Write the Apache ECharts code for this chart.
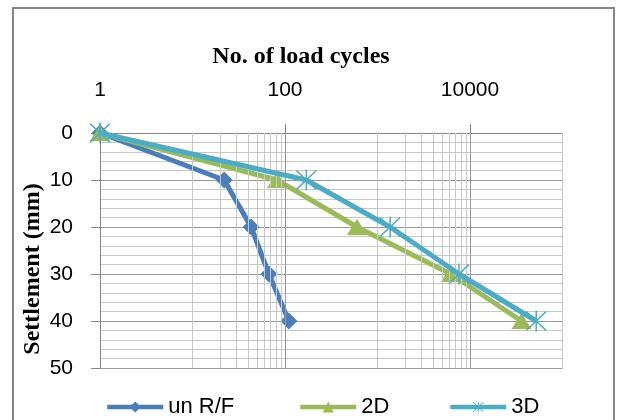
<!DOCTYPE html>
<html>
<head>
<meta charset="utf-8">
<script src="https://cdn.jsdelivr.net/npm/echarts@6/dist/echarts.min.js"></script>
<style>
  html, body { margin: 0; padding: 0; background: #fff; }
  #main { width: 621px; height: 420px; }
</style>
</head>
<body>
<div id="main"></div>
<script>
// settlement (mm) for every load stage
var settlement = [0, 10, 20, 30, 40];
// number of load cycles at each settlement
var cyclesUnRF = [1, 22, 43, 67, 110];
var cycles2D = [1, 82, 600, 6200, 36000];
var cycles3D = [1, 170, 1370, 7600, 52000];

var seriesNames = ['un R/F', '2D', '3D'];
var xTickLabels = [1, 100, 10000];
var yTickLabels = [0, 10, 20, 30, 40, 50];
// vertical grid lines (Excel log base 100 axis)
var xMajorGrid = [100, 10000];
var xMinorGrid = [10, 20, 30, 40, 50, 60, 70, 80, 90,
  1000, 2000, 3000, 4000, 5000, 6000, 7000, 8000, 9000, 100000];

var starPath = 'path://M9.3 0L10.7 0L10.7 20L9.3 20Z' +
  'M0.5 1.5L1.5 0.5L19.5 18.5L18.5 19.5Z' +
  'M18.5 0.5L19.5 1.5L1.5 19.5L0.5 18.5Z';

function pairs(xs) {
  return xs.map(function (x, i) { return [x, settlement[i]]; });
}

var chart = echarts.init(document.getElementById('main'), null, { renderer: 'canvas' });

var labelFont = { fontFamily: 'Liberation Sans', fontSize: 21, color: '#000' };

var option = {
  animation: false,
  backgroundColor: '#fff',
  grid: { left: 100, top: 133, right: 58.5, bottom: 52 },
  xAxis: {
    type: 'log',
    logBase: 100,
    position: 'top',
    min: 1,
    max: 100000,
    axisLine: { show: true, lineStyle: { color: '#868686', width: 1 } },
    axisTick: { show: true, length: 9, lineStyle: { color: '#868686' } },
    axisLabel: {
      margin: 32,
      fontFamily: labelFont.fontFamily,
      fontSize: labelFont.fontSize,
      color: labelFont.color,
      showMaxLabel: false,
      formatter: function (v) {
        var r = Math.round(v);
        return xTickLabels.indexOf(r) >= 0 ? String(r) : '';
      }
    },
    splitLine: { show: false },
    minorSplitLine: { show: false }
  },
  yAxis: {
    type: 'value',
    inverse: true,
    min: 0,
    max: 50,
    interval: 10,
    axisLine: { show: true, lineStyle: { color: '#868686', width: 1 } },
    axisTick: { show: true, length: 9, lineStyle: { color: '#868686' } },
    axisLabel: {
      margin: 27,
      fontFamily: labelFont.fontFamily,
      fontSize: labelFont.fontSize,
      color: labelFont.color,
      formatter: function (v) {
        return yTickLabels.indexOf(v) >= 0 ? String(v) : '';
      }
    },
    splitLine: { show: true, lineStyle: { color: '#9a9a9a', width: 1 } },
    minorTick: { show: false, splitNumber: 5 },
    minorSplitLine: { show: true, lineStyle: { color: '#c8c8c8', width: 1 } }
  },
  legend: [
    { data: [seriesNames[0]], left: 105 },
    { data: [seriesNames[1]], left: 298 },
    { data: [seriesNames[2]], left: 448 }
  ].map(function (l) {
    l.top = 396;
    l.itemWidth = 56;
    l.itemHeight = 14;
    l.padding = 0;
    l.selectedMode = false;
    l.lineStyle = { width: 4.5 };
    l.textStyle = { fontFamily: 'Liberation Sans', fontSize: 22, color: '#000' };
    return l;
  }),
  graphic: [
    {
      type: 'rect',
      shape: { x: 13, y: 8, width: 601, height: 440 },
      style: { fill: 'none', stroke: '#868686', lineWidth: 2 },
      silent: true
    },
    {
      type: 'text',
      x: 301,
      y: 57,
      style: {
        text: 'No. of load cycles',
        font: 'bold 24px "Liberation Serif"',
        fill: '#000',
        textAlign: 'center',
        textVerticalAlign: 'middle'
      }
    },
    {
      type: 'text',
      x: 33,
      y: 269,
      rotation: Math.PI / 2,
      style: {
        text: 'Settlement (mm)',
        font: 'bold 24px "Liberation Serif"',
        fill: '#000',
        textAlign: 'center',
        textVerticalAlign: 'middle'
      }
    }
  ],
  series: [
    {
      // grid lines of the log axis
      name: 'grid',
      type: 'line',
      data: [],
      z: 1,
      silent: true,
      markLine: {
        silent: true,
        symbol: ['none', 'none'],
        label: { show: false },
        animation: false,
        data: xMinorGrid.map(function (v) {
          return { xAxis: v, lineStyle: { color: '#c8c8c8', width: 1, type: 'solid' } };
        }).concat(xMajorGrid.map(function (v) {
          return { xAxis: v, lineStyle: { color: '#9a9a9a', width: 1, type: 'solid' } };
        }))
      }
    },
    {
      name: seriesNames[0],
      type: 'line',
      data: pairs(cyclesUnRF),
      clip: false,
      z: 3,
      symbol: 'diamond',
      symbolSize: 17,
      itemStyle: { color: '#4A7EBB' },
      lineStyle: { color: '#4A7EBB', width: 5 }
    },
    {
      name: seriesNames[1],
      type: 'line',
      data: pairs(cycles2D),
      clip: false,
      z: 4,
      symbol: 'triangle',
      symbolSize: [20, 16],
      itemStyle: { color: '#9BBB59' },
      lineStyle: { color: '#9BBB59', width: 5 }
    },
    {
      name: seriesNames[2],
      type: 'line',
      data: pairs(cycles3D),
      clip: false,
      z: 5,
      symbol: starPath,
      symbolSize: 21,
      itemStyle: { color: '#4BACC6' },
      lineStyle: { color: '#4BACC6', width: 5 }
    }
  ]
};

chart.setOption(option);
</script>
</body>
</html>
